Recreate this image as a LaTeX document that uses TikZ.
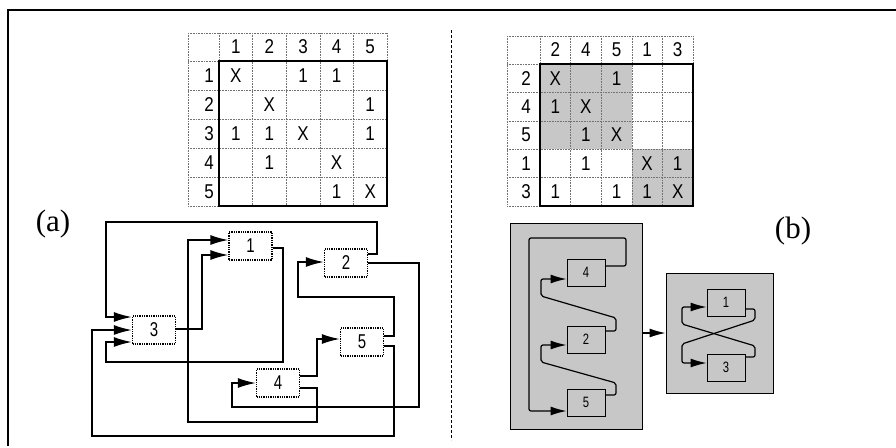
\documentclass[tikz,border=0pt]{standalone}
\usepackage{fontspec}
\setmainfont{Liberation Serif}
\newfontfamily\tabfont{Liberation Sans}[FakeStretch=0.85]
\newfontfamily\nodefont{Liberation Sans}[FakeStretch=0.75]
\usetikzlibrary{arrows.meta}
\begin{document}
\begin{tikzpicture}[x=1pt,y=-1pt,
  arr/.style={-{Latex[length=18pt,width=10pt]}, line width=1.6pt},
  arrb/.style={-{Latex[length=16pt,width=9pt]}, line width=1.2pt, rounded corners=2pt},
  boxa/.style={draw, densely dotted, line width=1.3pt, minimum width=43pt, minimum height=28pt, inner sep=0pt, font=\nodefont\fontsize{20}{20}\selectfont},
  boxb/.style={draw, line width=1pt, fill=black!22, minimum width=38pt, minimum height=27pt, inner sep=0pt, font=\nodefont\fontsize{15}{15}\selectfont},
  grp/.style={draw, line width=1pt, fill=black!22, inner sep=0pt},
  cell/.style={inner sep=0pt, font=\tabfont\fontsize{20}{20}\selectfont},
  gridl/.style={black!55, densely dotted, line width=0.6pt},
  tborder/.style={line width=1.6pt},
  lbl/.style={font=\fontsize{31}{31}\selectfont, inner sep=0pt}
]
\useasboundingbox (0,0) rectangle (896,447);
% frame and divider
\draw[line width=2pt] (896,9.5) -- (8,9.5) -- (8,446);
\draw[densely dashed, line width=1pt] (451,30) -- (451,440);

% ---------- table (a)
\foreach \yy in {33,61,90,119,148,177,206} \draw[gridl] (188,\yy) -- (387,\yy);
\foreach \xx in {188,219,252.6,286.2,319.8,353.4,387} \draw[gridl] (\xx,33) -- (\xx,206);
\draw[tborder] (219,61) rectangle (387,206);
\foreach \k in {1,...,5} {
  \node[cell] (ha\k) at (219+33.6*\k-16.8,47) {\k};
  \node[cell, anchor=east] (ra\k) at (214,61+29*\k-14.5) {\k};
}
\foreach \r/\c/\t in {1/1/X,1/3/1,1/4/1,2/2/X,2/5/1,3/1/1,3/2/1,3/3/X,3/5/1,4/2/1,4/4/X,5/4/1,5/5/X}
  \node[cell] (ea-\r-\c) at (219+33.6*\c-16.8,61+29*\r-14.5) {\t};

% ---------- table (b)
\fill[black!22] (540,64) rectangle (631.8,149.2);
\fill[black!22] (631.8,149.2) rectangle (693,206);
\foreach \yy in {36,64,92.4,120.8,149.2,177.6,206} \draw[gridl] (507,\yy) -- (693,\yy);
\foreach \xx in {507,540,570.6,601.2,631.8,662.4,693} \draw[gridl] (\xx,36) -- (\xx,206);
\draw[tborder] (540,64) rectangle (693,206);
\foreach \v [count=\k] in {2,4,5,1,3} {
  \node[cell] (hb\k) at (540+30.6*\k-15.3,50) {\v};
  \node[cell, anchor=east] (rb\k) at (531,64+28.4*\k-14.2) {\v};
}
\foreach \r/\c/\t in {1/1/X,1/3/1,2/1/1,2/2/X,3/2/1,3/3/X,4/2/1,4/4/X,4/5/1,5/1/1,5/3/1,5/4/1,5/5/X}
  \node[cell] (eb-\r-\c) at (540+30.6*\c-15.3,64+28.4*\r-14.2) {\t};

% labels
\node[lbl] (la) at (53,224.5) {(a)};
\node[lbl] (lb) at (793,231) {(b)};

% ---------- graph (a)
\node[boxa] (a1) at (250.5,246) {1};
\node[boxa] (a2) at (346,263) {2};
\node[boxa] (a3) at (154,330) {3};
\node[boxa] (a4) at (278,383) {4};
\node[boxa] (a5) at (362,342) {5};

\draw[arr] (a2.east |- 0,254) -- (377,254) -- (377,222) -- (106,222) -- (106,317) -- (a3.west |- 0,317);
\draw[arr] (a1.east |- 0,248) -- (283,248) -- (283,362) -- (106,362) -- (106,342) -- (a3.west |- 0,342);
\draw[arr] (a3.east |- 0,329) -- (202,329) -- (202,255) -- (a1.west |- 0,255);
\draw[arr] (a4.east |- 0,388) -- (317,388) -- (317,422) -- (188,422) -- (188,240) -- (a1.west |- 0,240);
\draw[arr] (a2.east |- 0,263) -- (419,263) -- (419,407) -- (232,407) -- (232,383) -- (a4.west);
\draw[arr] (a4.east |- 0,376) -- (317,376) -- (317,339) -- (a5.west |- 0,339);
\draw[arr] (a5.east |- 0,336) -- (394,336) -- (394,297) -- (298,297) -- (298,262) -- (a2.west |- 0,262);
\draw[arr] (a5.east |- 0,346) -- (394,346) -- (394,436) -- (92,436) -- (92,330) -- (a3.west |- 0,330);

% ---------- graph (b)
\node[grp, minimum width=132pt, minimum height=206pt] (L) at (576,326) {};
\node[grp, minimum width=107pt, minimum height=120pt] (R) at (719.5,333) {};
\node[boxb] (b4) at (586,272.5) {4};
\node[boxb] (b2) at (586,339.5) {2};
\node[boxb] (b5) at (586,402.5) {5};
\node[boxb] (b1) at (726,302.5) {1};
\node[boxb] (b3) at (726,367.5) {3};

\draw[arrb] (b4.east |- 0,266) -- (626,266) -- (626,238) -- (529,238) -- (529,411) -- (b5.west |- 0,411);
\draw[arrb] (b2.east |- 0,331) -- (616,331) -- (616,318) -- (541,296) -- (541,279) -- (b4.west |- 0,279);
\draw[arrb] (b5.east |- 0,395) -- (616,395) -- (616,383) -- (541,362) -- (541,345) -- (b2.west |- 0,345);
\draw[arrb] (L.east |- 0,333) -- (R.west |- 0,333);
\draw[arrb] (b1.east |- 0,309) -- (755,309) -- (755,320) -- (682,344) -- (682,363) -- (b3.west |- 0,363);
\draw[arrb] (b3.east |- 0,357) -- (755,357) -- (755,346) -- (682,324) -- (682,307) -- (b1.west |- 0,307);
\end{tikzpicture}
\end{document}
